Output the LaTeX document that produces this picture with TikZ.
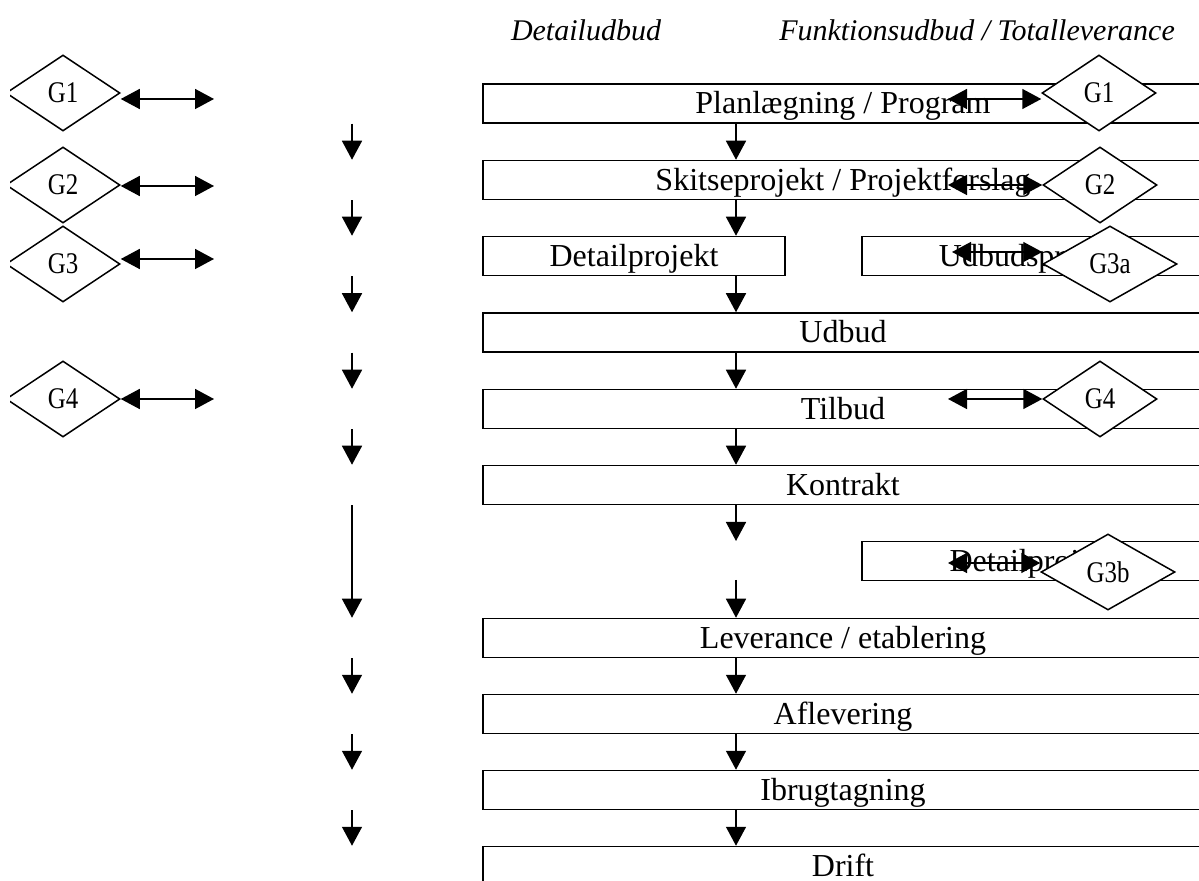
\documentclass[tikz,border=0pt]{standalone}
\usepackage{fontspec}
\usepackage{graphicx}
\setmainfont{Liberation Serif}
\usetikzlibrary{shapes.geometric,arrows.meta}

\tikzset{
  phase/.style={draw, rectangle, inner sep=0pt, minimum width=360pt, minimum height=19.5pt,
    text height=10.5pt, text depth=0pt, font=\fontsize{16}{18}\selectfont},
  gate/.style={draw, diamond, fill=white, inner sep=0pt, shape aspect=1.5,
    minimum width=57pt, minimum height=38pt, font=\fontsize{15}{17}\selectfont},
  wgate/.style={gate, minimum width=67pt},
  head/.style={font=\itshape\fontsize{15}{18}\selectfont, anchor=base},
  arr/.style={-{Triangle[length=9.5pt,width=10pt]}},
  dbl/.style={{Triangle[length=9.5pt,width=10pt]}-{Triangle[length=9.5pt,width=10pt]}}
}

\begin{document}
\begin{tikzpicture}[x=0.5pt, y=-0.5pt, line width=0.75pt]
    \useasboundingbox (0,0) rectangle (1199,881);
    \clip (10,0) rectangle (1199,881);

    % Headings
    \node[head] (hdetail) at (586,41) {Detailudbud};
    \node[head] (hfunk) at (977,41) {Funktionsudbud / Totalleverance};

    % Phases
    \node[phase] (plan) at (843,103.5) {Planlægning / Program};
    \node[phase] (skitse) at (843,180) {Skitseprojekt / Projektforslag};
    \node[phase, minimum width=151pt] (detail) at (634,256) {Detailprojekt};
    \node[phase, minimum width=172pt] (udbprj) at (1034,256) {Udbudsprojekt};
    \node[phase] (udbud) at (843,332.5) {Udbud};
    \node[phase] (tilbud) at (843,409) {Tilbud};
    \node[phase] (kontrakt) at (843,485) {Kontrakt};
    \node[phase, minimum width=172pt] (detprj) at (1034,561) {Detailprojekt};
    \node[phase] (lever) at (843,638) {Leverance / etablering};
    \node[phase] (afl) at (843,714) {Aflevering};
    \node[phase] (ibrug) at (843,790) {Ibrugtagning};
    \node[phase] (drift) at (843,866) {Drift};

    % Gates, left
    \node[gate] (gl1) at (63,93) {\scalebox{0.83}[1]{G1}};
    \node[gate] (gl2) at (63,185) {\scalebox{0.83}[1]{G2}};
    \node[gate] (gl3) at (63,264) {\scalebox{0.83}[1]{G3}};
    \node[gate] (gl4) at (63,399) {\scalebox{0.83}[1]{G4}};

    % Gates, right
    \node[gate] (gr1) at (1099,93) {\scalebox{0.83}[1]{G1}};
    \node[gate] (gr2) at (1100,185) {\scalebox{0.83}[1]{G2}};
    \node[wgate] (gr3a) at (1110,264) {\scalebox{0.83}[1]{G3a}};
    \node[gate] (gr4) at (1100,399) {\scalebox{0.83}[1]{G4}};
    \node[wgate] (gr3b) at (1108,572) {\scalebox{0.83}[1]{G3b}};

    % Flow, middle
    \coordinate (mcol) at (736,0);
    \coordinate (kend) at (736,541);
    \coordinate (lstart) at (736,580);
    \draw[arr] (plan.south -| mcol) -- (skitse.north -| mcol);
    \draw[arr] (skitse.south -| mcol) -- (detail.north -| mcol);
    \draw[arr] (detail.south -| mcol) -- (udbud.north -| mcol);
    \draw[arr] (udbud.south -| mcol) -- (tilbud.north -| mcol);
    \draw[arr] (tilbud.south -| mcol) -- (kontrakt.north -| mcol);
    \draw[arr] (kontrakt.south -| mcol) -- (kend);
    \draw[arr] (lstart) -- (lever.north -| mcol);
    \draw[arr] (lever.south -| mcol) -- (afl.north -| mcol);
    \draw[arr] (afl.south -| mcol) -- (ibrug.north -| mcol);
    \draw[arr] (ibrug.south -| mcol) -- (drift.north -| mcol);

    % Flow, left
    \coordinate (lcol) at (352,0);
    \draw[arr] (plan.south -| lcol) -- (skitse.north -| lcol);
    \draw[arr] (skitse.south -| lcol) -- (detail.north -| lcol);
    \draw[arr] (detail.south -| lcol) -- (udbud.north -| lcol);
    \draw[arr] (udbud.south -| lcol) -- (tilbud.north -| lcol);
    \draw[arr] (tilbud.south -| lcol) -- (kontrakt.north -| lcol);
    \draw[arr] (kontrakt.south -| lcol) -- (lever.north -| lcol);
    \draw[arr] (lever.south -| lcol) -- (afl.north -| lcol);
    \draw[arr] (afl.south -| lcol) -- (ibrug.north -| lcol);
    \draw[arr] (ibrug.south -| lcol) -- (drift.north -| lcol);

    % Gate arrows, left
    \coordinate (al1) at (214,99);
    \coordinate (al2) at (214,186);
    \coordinate (al3) at (214,259);
    \coordinate (al4) at (214,399);
    \draw[dbl] (gl1.east |- al1) -- (al1);
    \draw[dbl] (gl2.east |- al2) -- (al2);
    \draw[dbl] (gl3.east |- al3) -- (al3);
    \draw[dbl] (gl4.east |- al4) -- (al4);

    % Gate arrows, right
    \coordinate (ar1) at (948,99);
    \coordinate (ar2) at (948,185);
    \coordinate (ar3a) at (952,252);
    \coordinate (ar4) at (948,399);
    \coordinate (ar3b) at (948,563);
    \draw[dbl] (ar1) -- (gr1.west |- ar1);
    \draw[dbl] (ar2) -- (gr2.west |- ar2);
    \draw[dbl] (ar3a) -- (gr3a.west |- ar3a);
    \draw[dbl] (ar4) -- (gr4.west |- ar4);
    \draw[dbl] (ar3b) -- (gr3b.west |- ar3b);
\end{tikzpicture}
\end{document}
